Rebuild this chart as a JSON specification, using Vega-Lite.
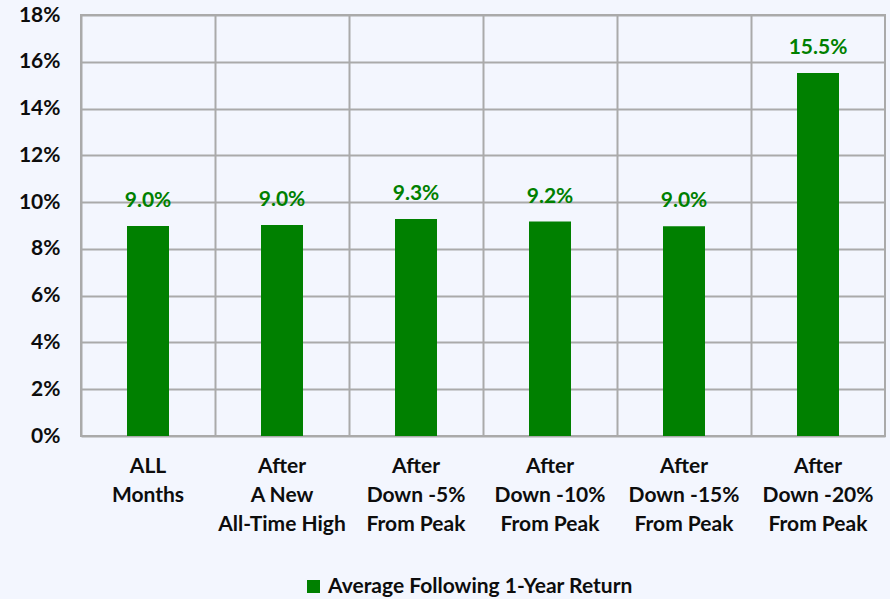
{
  "$schema": "https://vega.github.io/schema/vega-lite/v6.json",
  "autosize": {"type": "none"},
  "width": 804,
  "height": 421,
  "padding": {"left": 81, "top": 15, "right": 5, "bottom": 163},
  "background": "#F3F6FE",
  "config": {
    "view": {"stroke": "#AAAAAA", "strokeWidth": 2},
    "font": "Lato"
  },
  "data": {
    "values": [
      {"cat": "ALL|Months", "value": 0.0898, "series": "Average Following 1-Year Return"},
      {"cat": "After|A New|All-Time High", "value": 0.0902, "series": "Average Following 1-Year Return"},
      {"cat": "After|Down -5%|From Peak", "value": 0.0928, "series": "Average Following 1-Year Return"},
      {"cat": "After|Down -10%|From Peak", "value": 0.0917, "series": "Average Following 1-Year Return"},
      {"cat": "After|Down -15%|From Peak", "value": 0.0897, "series": "Average Following 1-Year Return"},
      {"cat": "After|Down -20%|From Peak", "value": 0.1552, "series": "Average Following 1-Year Return"}
    ]
  },
  "encoding": {
    "x": {
      "field": "cat", "type": "nominal", "sort": null,
      "scale": {"paddingInner": 0, "paddingOuter": 0},
      "axis": {
        "title": null, "labelAngle": 0, "ticks": false, "domain": false,
        "grid": true, "bandPosition": 0, "gridColor": "#AAAAAA", "gridWidth": 2,
        "labelExpr": "split(datum.label, '|')",
        "labelFont": "Lato", "labelFontSize": 21, "labelFontWeight": "bold", "labelColor": "#0D0D0D",
        "labelLineHeight": 29, "labelPadding": 19, "labelBaseline": "top"
      }
    },
    "y": {
      "field": "value", "type": "quantitative",
      "scale": {"domain": [0, 0.18]},
      "axis": {
        "title": null, "format": ".0%", "values": [0, 0.02, 0.04, 0.06, 0.08, 0.1, 0.12, 0.14, 0.16, 0.18],
        "ticks": false, "domain": false, "grid": true, "gridColor": "#AAAAAA", "gridWidth": 2,
        "labelFont": "Lato", "labelFontSize": 21, "labelFontWeight": "bold", "labelColor": "#0D0D0D",
        "labelPadding": 21
      }
    }
  },
  "layer": [
    {
      "mark": {"type": "bar", "width": 42},
      "encoding": {
        "color": {
          "field": "series", "type": "nominal",
          "scale": {"range": ["#008000"]},
          "legend": {
            "title": null, "orient": "none", "legendX": 222, "legendY": 561,
            "symbolType": "square", "symbolSize": 170, "symbolStrokeWidth": 0,
            "labelFont": "Lato", "labelFontSize": 21, "labelFontWeight": "bold", "labelColor": "#0D0D0D",
            "labelLimit": 400
          }
        }
      }
    },
    {
      "mark": {"type": "text", "dy": -25, "fontSize": 21, "fontWeight": "bold", "color": "#008000", "font": "Lato"},
      "encoding": {"text": {"field": "value", "type": "quantitative", "format": ".1%"}}
    }
  ]
}
